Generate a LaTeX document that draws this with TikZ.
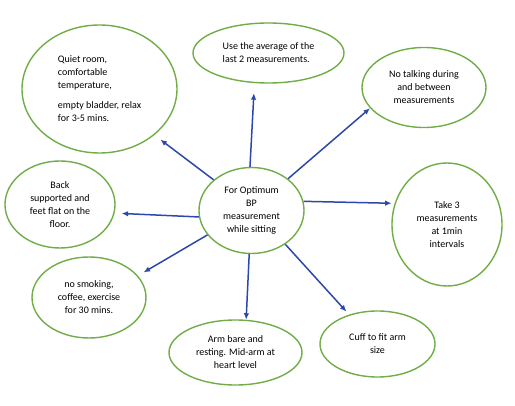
\documentclass[tikz,border=0pt]{standalone}
\usepackage{fontspec}
\setmainfont{Carlito}
\usepackage{tikz}
\usetikzlibrary{arrows.meta,shapes.geometric}
\definecolor{bubgreen}{RGB}{112,173,71}
\definecolor{arrblue}{RGB}{44,72,168}

\begin{document}
\begin{tikzpicture}[x=1pt,y=-1pt,>={Latex[length=6.5pt,width=5.5pt]},
  bubble/.style={draw=bubgreen,line width=1.4pt,ellipse,inner sep=0pt,align=center,
    font=\fontsize{10}{13}\selectfont},
  arr/.style={->,draw=arrblue,line width=1.5pt}]
\useasboundingbox (0,0) rectangle (515,406);
\node (c) [bubble,minimum width=105pt,minimum height=86pt] at (251.5,210.5)
  {For Optimum\\BP\\measurement\\while sitting};
\node (q) [bubble,minimum width=155pt,minimum height=128pt,align=left] at (99.5,89)
  {Quiet room,\\comfortable\\temperature,\\[7pt]empty bladder, relax\\for 3-5 mins.\hspace*{6pt}};
\node (u) [bubble,minimum width=151pt,minimum height=60pt,align=left] at (268.5,53)
  {Use the average of the\\last 2 measurements.};
\node (n) [bubble,minimum width=124pt,minimum height=80pt] at (424,87.5)
  {No talking during\\and between\\measurements};
\node (t) [bubble,minimum width=110pt,minimum height=123pt] at (447,224.5)
  {Take 3\\measurements\\at 1min\\intervals};
\node (f) [bubble,minimum width=115pt,minimum height=66pt] at (377.5,344)
  {Cuff to fit arm\\size};
\node (a) [bubble,minimum width=133pt,minimum height=65pt] at (235.5,352.5)
  {Arm bare and\\resting. Mid-arm at\\heart level};
\node (s) [bubble,minimum width=114pt,minimum height=81pt] at (89,297.5)
  {no smoking,\\coffee, exercise\\for 30 mins.};
\node (b) [bubble,minimum width=110pt,minimum height=87pt] at (60,204.5)
  {Back\\supported and\\feet flat on the\\floor.};
% spokes from the centre
\draw[arr,shorten >=7.5pt] (c.141) -- (q.-40);
\draw[arr,shorten >=10pt] (c.92) -- (u.-115);
\draw[arr] (c.41) -- (n.-159);
\draw[arr,shorten >=3pt] (c.10) -- (t.158);
\draw[arr,shorten >=4pt] (c.-45) -- (f.134);
\draw[arr] (c.-93) -- (a.72);
\draw[arr,shorten >=6.5pt] (c.-151) -- (s.24);
\draw[arr,shorten >=7pt] (c.-173) -- (b.-9);
\end{tikzpicture}
\end{document}
